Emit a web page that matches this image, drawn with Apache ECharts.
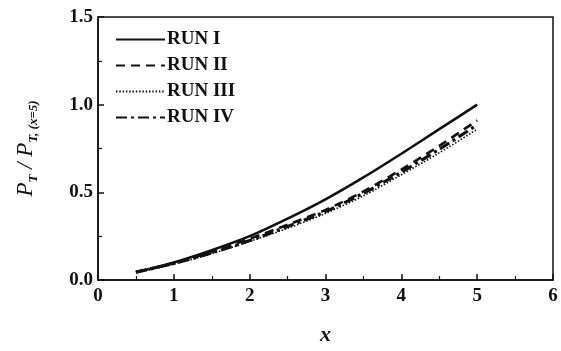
<!DOCTYPE html>
<html>
<head>
<meta charset="utf-8">
<script src="https://cdn.jsdelivr.net/npm/echarts@6/dist/echarts.min.js"></script>
<style>
  html, body { margin: 0; padding: 0; background: #fff; }
  #chart { width: 561px; height: 351px; }
</style>
</head>
<body>
<div id="chart"></div>
<script>
// Normalised power P_T / P_T,(x=5) against x for four runs
const xValues = [0.5, 1.0, 1.5, 2.0, 2.5, 3.0, 3.5, 4.0, 4.5, 5.0];
const runI   = [0.045, 0.10, 0.17, 0.25, 0.35, 0.46, 0.585, 0.72, 0.86, 1.00];
const runII  = [0.045, 0.095, 0.16, 0.235, 0.315, 0.40, 0.505, 0.63, 0.765, 0.91];
const runIII = [0.04, 0.09, 0.15, 0.22, 0.295, 0.38, 0.48, 0.60, 0.725, 0.86];
const runIV  = [0.045, 0.095, 0.155, 0.225, 0.305, 0.39, 0.495, 0.615, 0.745, 0.885];
const seriesNames = ['RUN I', 'RUN II', 'RUN III', 'RUN IV'];
const xTicks = [0, 1, 2, 3, 4, 5, 6];
const yTicks = [0.0, 0.5, 1.0, 1.5];

const pair = (ys) => xValues.map((x, i) => [x, ys[i]]);
const FONT = '"Liberation Serif", "DejaVu Serif", serif';

const lineStyles = [
  { type: 'solid', width: 2.6 },
  { type: [9, 6], width: 2.6 },
  { type: [1.5, 1.8], width: 1.6 },
  { type: [11, 4, 3, 4], width: 3.2 }
];
const dataSets = [runI, runII, runIII, runIV];

const chart = echarts.init(document.getElementById('chart'), null, { renderer: 'canvas' });
chart.setOption({
  backgroundColor: '#ffffff',
  animation: false,
  grid: {
    left: 98, right: 8, top: 17, bottom: 61,
    show: true, borderColor: '#111', borderWidth: 1.5, backgroundColor: 'transparent'
  },
  legend: {
    orient: 'vertical',
    left: 110, top: 25,
    itemWidth: 49, itemHeight: 16, itemGap: 7,
    data: seriesNames,
    // legend keys show the line pattern only
    itemStyle: { color: 'transparent', borderColor: 'transparent', borderWidth: 0, opacity: 0 },
    textStyle: { fontFamily: FONT, fontWeight: 'bold', fontSize: 19, color: '#111', padding: [0, 0, 0, -3] }
  },
  xAxis: {
    type: 'value', min: xTicks[0], max: xTicks[xTicks.length - 1], interval: 1,
    name: 'x', nameLocation: 'middle', nameGap: 44,
    nameTextStyle: { fontFamily: FONT, fontStyle: 'italic', fontWeight: 'bold', fontSize: 22, color: '#111' },
    axisLine: { show: true, lineStyle: { color: '#111', width: 1.5 } },
    axisTick: { show: true, inside: true, length: 6, lineStyle: { color: '#111', width: 1.5 } },
    minorTick: { show: true, splitNumber: 2, length: 4, lineStyle: { color: '#111', width: 1.2 } },
    splitLine: { show: false },
    axisLabel: { fontFamily: FONT, fontWeight: 'bold', fontSize: 19, color: '#111', margin: 7 }
  },
  yAxis: {
    type: 'value', min: yTicks[0], max: yTicks[yTicks.length - 1], interval: 0.5,
    name: '{i|P}{s|T}{i| / P}{s|T, (x=5)}', nameLocation: 'middle', nameGap: 60, nameRotate: 90,
    nameTextStyle: {
      color: '#111',
      rich: {
        i: { fontFamily: FONT, fontStyle: 'italic', fontSize: 23, color: '#111', verticalAlign: 'middle', lineHeight: 24 },
        s: { fontFamily: FONT, fontStyle: 'italic', fontWeight: 'bold', fontSize: 13, color: '#111', verticalAlign: 'bottom', lineHeight: 24, padding: [0, 0, -2, 0] }
      }
    },
    axisLine: { show: true, lineStyle: { color: '#111', width: 1.5 } },
    axisTick: { show: true, inside: true, length: 6, lineStyle: { color: '#111', width: 1.5 } },
    minorTick: { show: true, splitNumber: 2, length: 4, lineStyle: { color: '#111', width: 1.2 } },
    splitLine: { show: false },
    axisLabel: {
      fontFamily: FONT, fontWeight: 'bold', fontSize: 19, color: '#111', margin: 5,
      formatter: (v) => v.toFixed(1)
    }
  },
  series: seriesNames.map((name, k) => ({
    name: name,
    type: 'line',
    data: pair(dataSets[k]),
    smooth: 0.3,
    showSymbol: false,
    symbol: 'none',
    color: '#111',
    lineStyle: Object.assign({ color: '#111' }, lineStyles[k])
  }))
});
</script>
</body>
</html>
